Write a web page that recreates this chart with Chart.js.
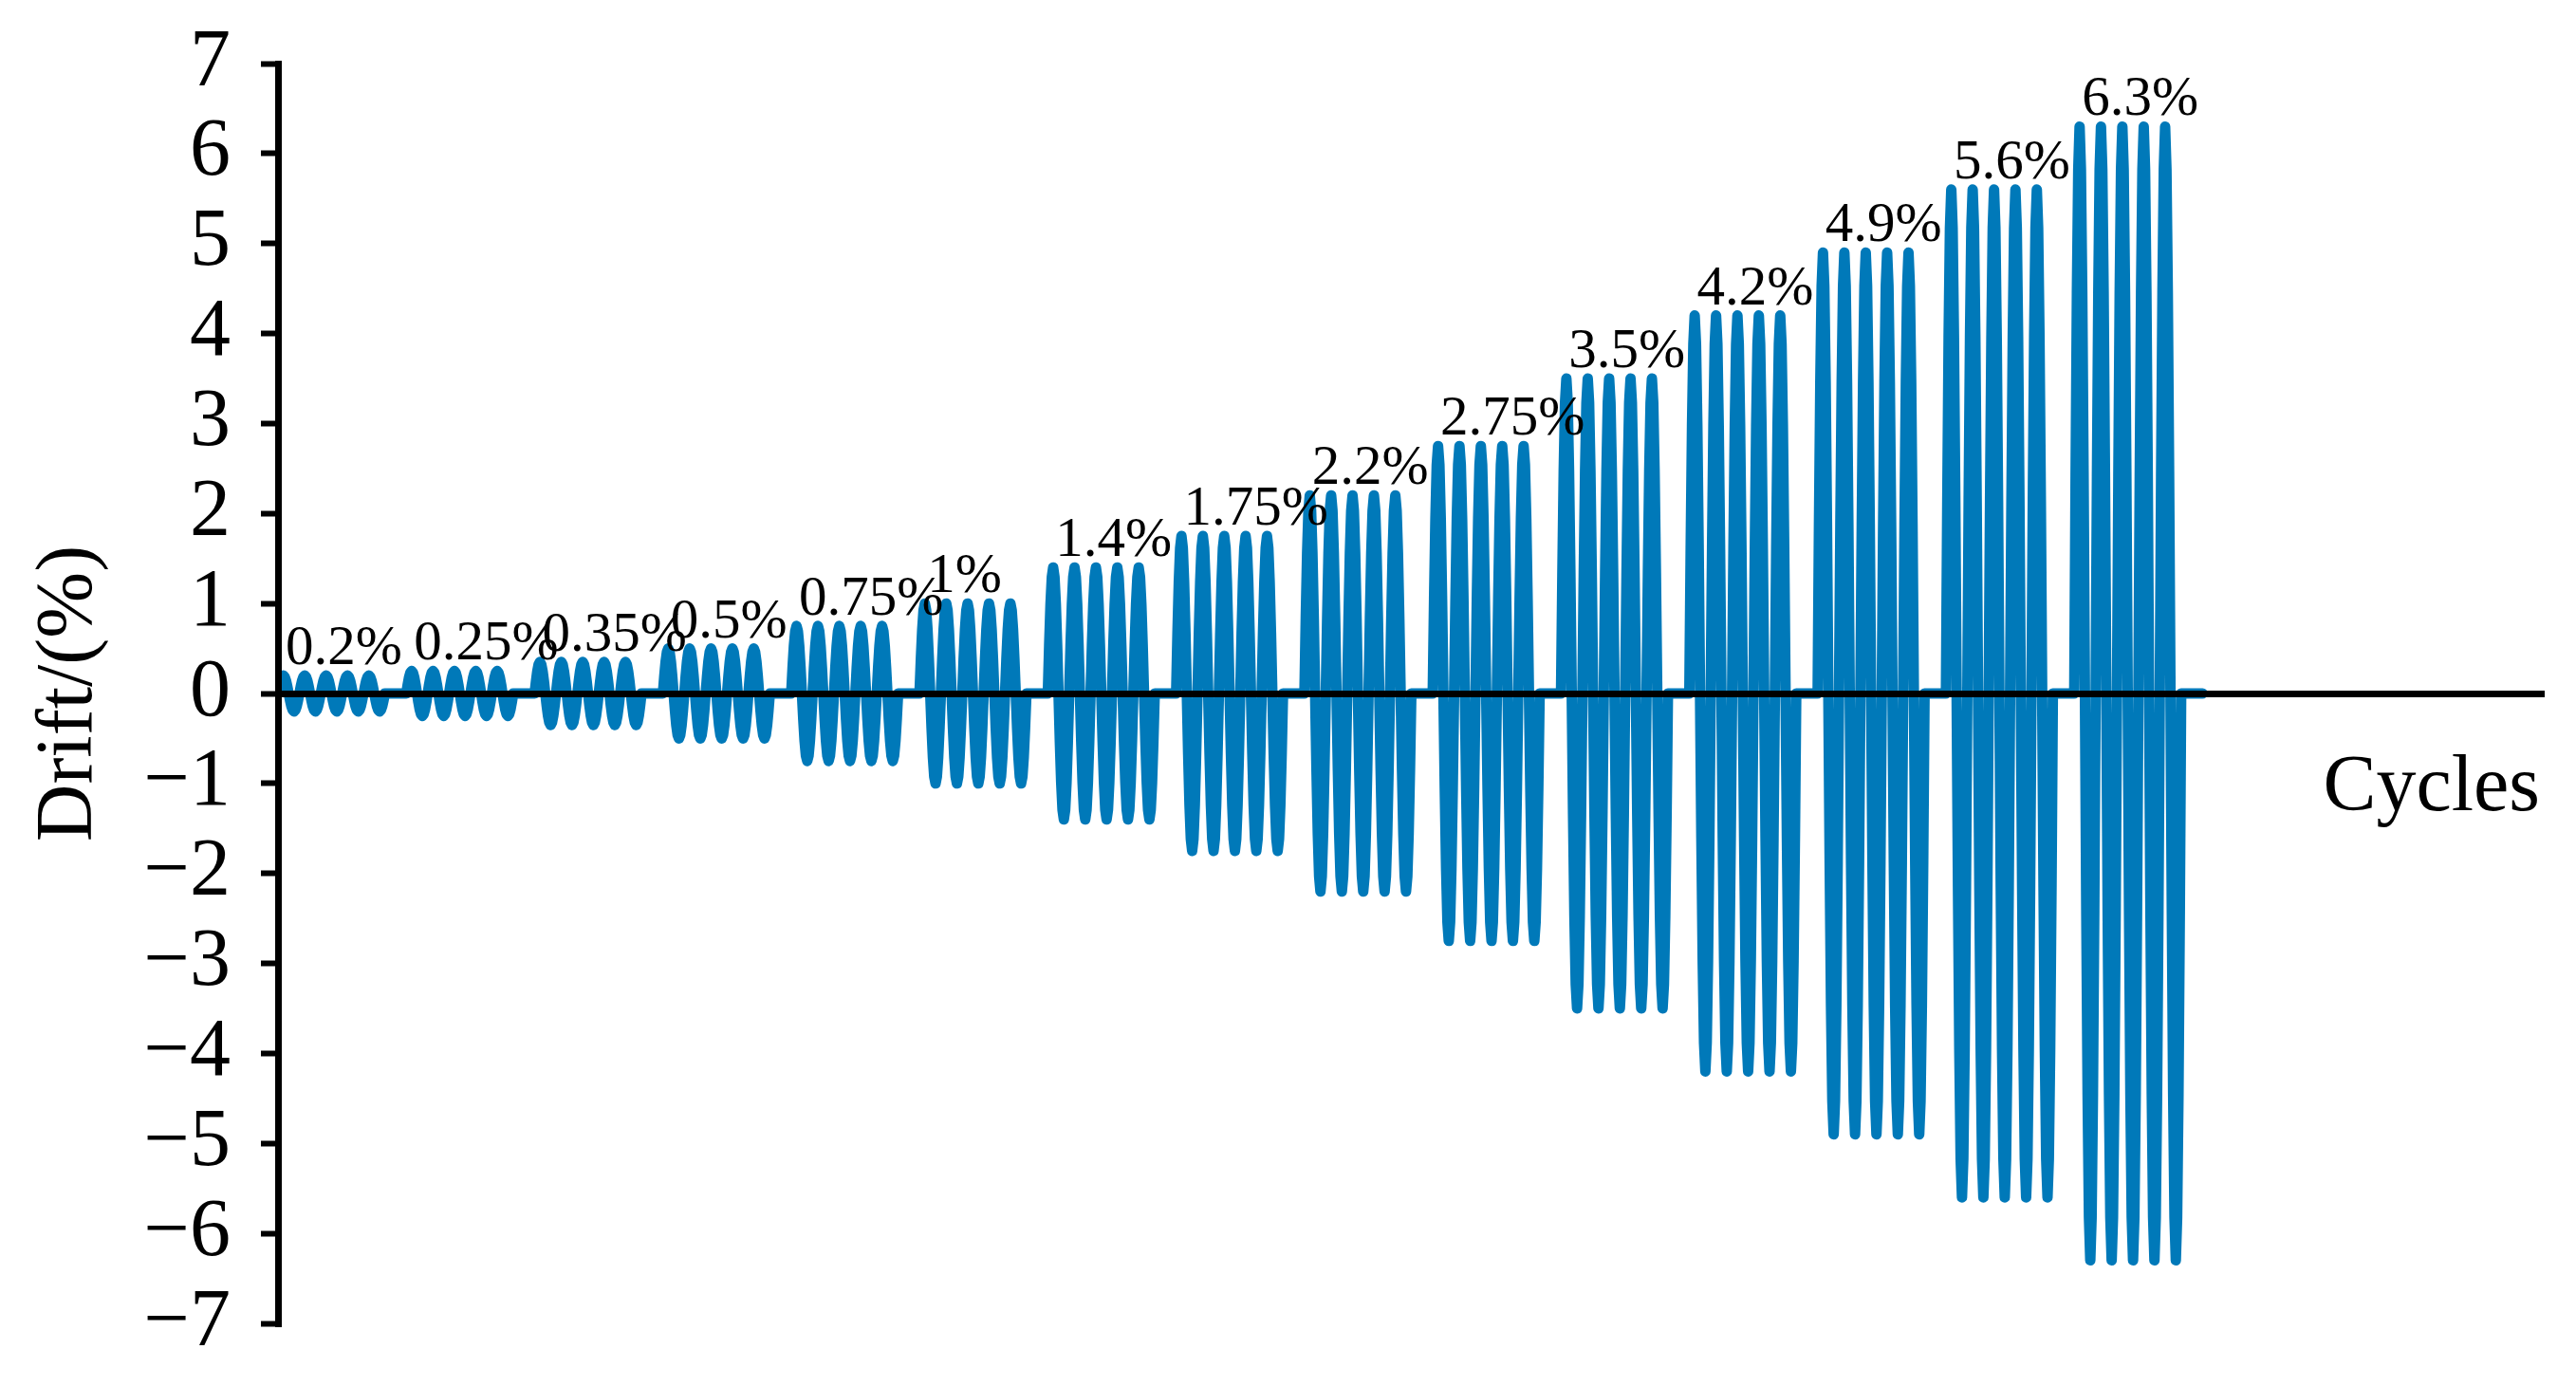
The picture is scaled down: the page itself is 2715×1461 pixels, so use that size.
<!DOCTYPE html>
<html lang="en">

<head>
    <meta charset="UTF-8">
    <title>Drift / Cycles</title>
    <script src="https://cdn.jsdelivr.net/npm/chart.js"></script>
    <style>
        body { margin: 0; background: white; overflow: hidden; }
        canvas { display: block; }
    </style>
</head>

<body>
    <canvas id="grafico" width="2715" height="1461"></canvas>
</body>

</html>
<script>

    // drift amplitude of each loading level (%)
    const drifts = [0.2, 0.25, 0.35, 0.5, 0.75, 1, 1.4, 1.75, 2.2, 2.75, 3.5, 4.2, 4.9, 5.6, 6.3];
    const driftLabels = ["0.2%", "0.25%", "0.35%", "0.5%", "0.75%", "1%", "1.4%", "1.75%", "2.2%", "2.75%", "3.5%", "4.2%", "4.9%", "5.6%", "6.3%"];
    const cyclesPerLevel = 5;
    const pauseCycles = 1;
    // one cycle, sampled at 16 points (normalised)
    const cycleShape = [0, 0.383, 0.707, 0.924, 1, 0.924, 0.707, 0.383, 0, -0.383, -0.707, -0.924, -1, -0.924, -0.707, -0.383];
    const yMin = -7, yMax = 7;
    const xMax = 106;

    const FONT = '"Liberation Serif", "Times New Roman", serif';

    // build the signal from the levels
    const points = [];
    const levelStarts = [];
    drifts.forEach((amp, i) => {
        const start = i * (cyclesPerLevel + pauseCycles);
        levelStarts.push(start);
        for (let c = 0; c < cyclesPerLevel; c++) {
            cycleShape.forEach((v, k) => {
                points.push({ x: start + c + k / cycleShape.length, y: amp * v });
            });
        }
        points.push({ x: start + cyclesPerLevel, y: 0 });
    });
    points.push({ x: drifts.length * (cyclesPerLevel + pauseCycles), y: 0 });

    const rotulos = {
        id: "rotulos",
        afterDatasetsDraw(chart) {
            const { ctx, scales: { x, y } } = chart;
            ctx.save();
            ctx.fillStyle = "#000";
            ctx.font = "59px " + FONT;
            ctx.textAlign = "left";
            ctx.textBaseline = "alphabetic";
            driftLabels.forEach((txt, i) => {
                ctx.fillText(txt, x.getPixelForValue(levelStarts[i]) + 8, y.getPixelForValue(drifts[i]) - 12);
            });
            ctx.font = "84px " + FONT;
            ctx.textAlign = "right";
            ctx.fillText("Cycles", 2677, 854);
            ctx.restore();
        }
    };

    const ctx = document.getElementById("grafico").getContext("2d");

    new Chart(ctx, {
        type: "line",
        data: {
            datasets: [{
                data: points,
                borderColor: "#0079b9",
                borderWidth: 11,
                borderJoinStyle: "round",
                borderCapStyle: "round",
                pointRadius: 0,
                tension: 0,
                fill: false
            }]
        },
        options: {
            responsive: false,
            animation: false,
            layout: {
                padding: { left: 0, top: 67, right: 33, bottom: 66 }
            },
            plugins: {
                legend: { display: false },
                tooltip: { enabled: false }
            },
            scales: {
                x: {
                    type: "linear",
                    min: 0,
                    max: xMax,
                    display: false
                },
                y: {
                    min: yMin,
                    max: yMax,
                    afterFit(scale) {
                        scale.width = 293;
                        scale.paddingTop = 0;
                        scale.paddingBottom = 0;
                    },
                    ticks: {
                        stepSize: 1,
                        autoSkip: false,
                        color: "#000",
                        padding: 32,
                        font: { family: FONT, size: 86 },
                        callback: v => v < 0 ? "\u2212" + Math.abs(v) : String(v)
                    },
                    grid: {
                        z: 1,
                        drawOnChartArea: true,
                        color: c => c.tick && c.tick.value === 0 ? "#000" : "rgba(0,0,0,0)",
                        lineWidth: 7,
                        tickColor: "#000",
                        tickWidth: 6,
                        tickLength: 18
                    },
                    border: { display: true, color: "#000", width: 7, z: 1 },
                    title: {
                        display: true,
                        text: "Drift/(%)",
                        color: "#000",
                        padding: { top: 24, bottom: 0 },
                        font: { family: FONT, size: 84 }
                    }
                }
            }
        },
        plugins: [rotulos]
    });

</script>
